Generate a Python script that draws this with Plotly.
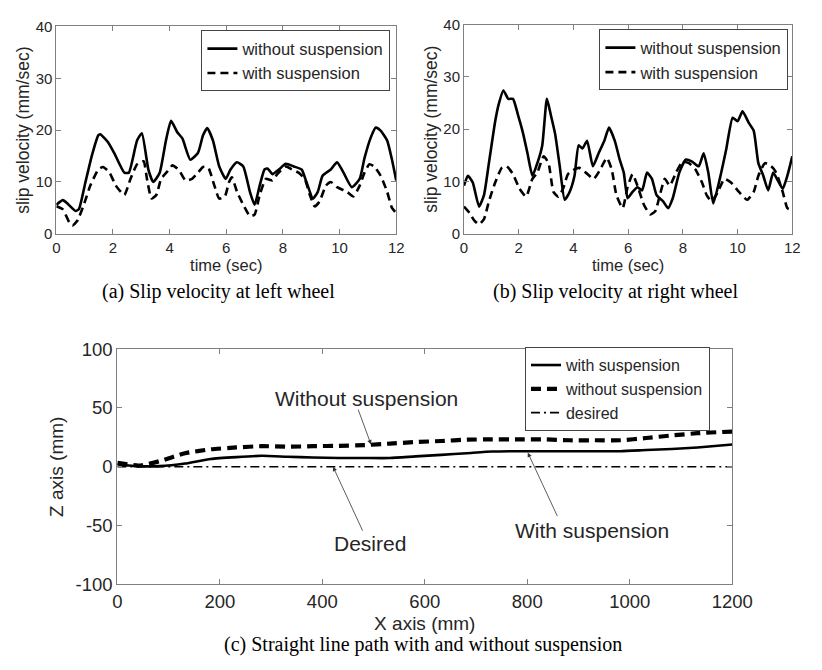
import plotly.graph_objects as go

# ---------------- data: (a) left wheel ----------------
left_wo_t = [0, 0.23, 0.4, 0.68, 0.8, 1.03, 1.25, 1.48, 1.55, 1.82, 2.05, 2.4, 2.56, 2.85, 3.02, 3.25, 3.42,
             3.65, 3.87, 4.05, 4.27, 4.45, 4.73, 5.0, 5.18, 5.33, 5.53, 5.75, 5.98, 6.15, 6.38, 6.6, 6.84,
             7.0, 7.18, 7.35, 7.46, 7.63, 7.86, 8.1, 8.38, 8.66, 8.83, 9.06, 9.23, 9.4, 9.69, 9.91, 10.14,
             10.43, 10.71, 10.88, 11.11, 11.28, 11.45, 11.68, 11.85, 12]
left_wo_v = [5.6, 6.5, 5.8, 4.4, 4.8, 10, 15, 19, 19.2, 17.7, 15.5, 11.8, 11.8, 18, 19.4, 12.4, 10,
             11.8, 18, 21.8, 19.6, 18.4, 14.3, 15.6, 19, 20.4, 18, 13, 10.6, 12.4, 13.8, 13, 8,
             5.6, 9.3, 12.4, 12.6, 11.5, 12.4, 13.5, 13, 12.4, 10, 6.8, 8.1, 11.2, 12.4, 13.8, 11.8,
             9, 10.6, 14.6, 18.7, 20.5, 19.9, 18, 14.3, 10.3]
left_w_t = [0, 0.23, 0.46, 0.57, 0.74, 0.97, 1.2, 1.48, 1.65, 1.88, 2.1, 2.4, 2.62, 2.85, 3.08, 3.2, 3.36,
            3.53, 3.7, 3.93, 4.1, 4.33, 4.56, 4.79, 5.0, 5.18, 5.36, 5.58, 5.75, 5.95, 6.1, 6.2, 6.38,
            6.6, 6.84, 7.0, 7.18, 7.4, 7.63, 7.8, 8.1, 8.32, 8.55, 8.77, 8.95, 9.12, 9.29, 9.52, 9.69,
            9.91, 10.26, 10.49, 10.71, 10.88, 11.05, 11.22, 11.45, 11.68, 11.85, 12]
left_w_v = [5.3, 4.7, 2.2, 1.6, 2.5, 5.6, 9.3, 12.4, 12.9, 11.8, 9.3, 7.5, 10.6, 13.4, 14, 10.6, 6.8,
            7.5, 10.6, 12.1, 13.2, 12.3, 10.3, 10.6, 11.8, 12.9, 12.8, 9.3, 6.8, 7.2, 10, 10.9, 8.1,
            5.6, 3.4, 3.7, 7.5, 10.6, 10.3, 11.5, 13, 12.4, 11.8, 10.6, 7.5, 5.3, 6.2, 9.3, 10,
            9, 8.1, 7.2, 9.3, 11.8, 13.4, 13, 11.2, 8.1, 5, 4]

# ---------------- data: (b) right wheel ----------------
right_wo_t = [0, 0.14, 0.32, 0.55, 0.73, 0.91, 1.14, 1.26, 1.44, 1.62, 1.79, 1.97, 2.15, 2.32, 2.5, 2.68,
              2.86, 3.03, 3.17, 3.33, 3.5, 3.68, 3.86, 4.04, 4.19, 4.33, 4.5, 4.71, 4.92, 5.13, 5.3, 5.51,
              5.69, 5.84, 5.98, 6.16, 6.34, 6.51, 6.69, 6.87, 7.04, 7.28, 7.46, 7.63, 7.87, 8.11, 8.34,
              8.58, 8.76, 8.93, 9.11, 9.35, 9.58, 9.82, 10.0, 10.18, 10.41, 10.59, 10.76, 10.94, 11.12,
              11.3, 11.47, 11.65, 11.82, 12]
right_wo_v = [9.2, 11.1, 9.8, 5.2, 7.4, 13.5, 21.5, 24.6, 27.4, 25.8, 25.8, 22.8, 19.4, 15.4, 11.1, 13.5,
              16.9, 25.8, 22.8, 19.1, 12.9, 6.5, 8, 11.1, 16.9, 16.3, 17.8, 12.9, 15.4, 17.8, 20.3, 17.8,
              14.2, 11.7, 6.8, 8, 8.9, 8.3, 11.7, 10.5, 7.4, 6.2, 4.9, 6.8, 11.7, 14.2, 13.8,
              12.9, 15.4, 11.7, 5.8, 10.5, 16, 22.2, 21.5, 23.4, 21.2, 19.7, 13.5, 11.1, 8.3,
              11.7, 10.2, 8.6, 11.1, 14.8]
right_w_t = [0, 0.2, 0.38, 0.55, 0.73, 0.91, 1.14, 1.38, 1.56, 1.79, 2.03, 2.27, 2.5, 2.68, 2.91, 3.09,
             3.27, 3.45, 3.62, 3.8, 4.04, 4.21, 4.45, 4.74, 4.98, 5.22, 5.4, 5.57, 5.8, 5.98, 6.16, 6.34,
             6.58, 6.81, 6.99, 7.16, 7.34, 7.52, 7.75, 7.99, 8.22, 8.46, 8.7, 8.87, 9.05, 9.28, 9.52,
             9.76, 10.05, 10.35, 10.59, 10.76, 11.0, 11.23, 11.41, 11.65, 11.82, 11.95]
right_w_v = [5.2, 4, 2.5, 1.8, 2.8, 6.2, 9.8, 12.6, 12.9, 11.4, 8.6, 7.1, 10.5, 11.7, 14.8, 13.5,
             8, 7.1, 8.6, 11.4, 12.3, 12.6, 11.7, 10.5, 12.3, 14.5, 12.3, 7.4, 4.9, 8.9, 11.4, 9.2,
             5.5, 3.7, 4.3, 7.4, 10.5, 9.2, 11.7, 13.8, 13.5, 12.3, 9.8, 7.4, 6.2, 8, 10.5,
             9.8, 8, 6.5, 8, 11.1, 13.5, 12.9, 11.7, 8, 4.9, 4.6]

# ---------------- data: (c) straight line path ----------------
path_x = [0, 42, 82, 132, 182, 232, 282, 332, 382, 432, 482, 532, 582, 632, 682, 732, 782, 832, 882,
          932, 982, 1032, 1082, 1132, 1200]
path_with = [1.9, 0.5, 0.5, 2.7, 6.6, 8.2, 9.3, 8.5, 7.9, 7.4, 7.4, 7.4, 8.8, 10.1, 11.5, 12.9, 13.2,
             13.2, 13.2, 13.2, 13.2, 14.2, 15.1, 16.4, 18.9]
path_without = [3.3, 1.0, 4.7, 11.5, 14.8, 16.4, 17.5, 17.0, 17.5, 17.8, 18.4, 19.7, 21.0, 21.9, 23.0,
                23.3, 23.3, 23.3, 22.5, 22.5, 22.5, 24.4, 26.6, 28.5, 29.9]
desired_x = [0, 1200]
desired_z = [0, 0]

top_xticks = [0, 2, 4, 6, 8, 10, 12]
top_xlabels = ["0", "2", "4", "6", "8", "10", "12"]
top_yticks = [0, 10, 20, 30, 40]
top_ylabels = ["0", "10", "20", "30", "40"]
bot_xticks = [0, 200, 400, 600, 800, 1000, 1200]
bot_xlabels = ["0", "200", "400", "600", "800", "1000", "1200"]
bot_yticks = [-100, -50, 0, 50, 100]
bot_ylabels = ["-100", "-50", "0", "50", "100"]

W, H = 822, 670
SANS = "Liberation Sans, Arial, sans-serif"
SERIF = "Liberation Serif, Times New Roman, serif"
AXC = "#808080"
TXT = "#262626"

fig = go.Figure()

def line(x, y, xa, ya, name, legend, width, dash):
    fig.add_trace(go.Scatter(x=x, y=y, xaxis=xa, yaxis=ya, name=name, legend=legend, mode="lines",
                             line=dict(color="black", width=width, dash=dash, shape="spline", smoothing=0.5)))

line(left_wo_t, left_wo_v, "x", "y", "without suspension", "legend", 2.6, "solid")
line(left_w_t, left_w_v, "x", "y", "with suspension", "legend", 2.6, "8px,5px")
line(right_wo_t, right_wo_v, "x2", "y2", "without suspension", "legend2", 2.6, "solid")
line(right_w_t, right_w_v, "x2", "y2", "with suspension", "legend2", 2.6, "8px,5px")
line(path_x, path_with, "x3", "y3", "with suspension", "legend3", 2.6, "solid")
line(path_x, path_without, "x3", "y3", "without suspension", "legend3", 4.2, "10px,6px")
fig.add_trace(go.Scatter(x=desired_x, y=desired_z, xaxis="x3", yaxis="y3", name="desired", legend="legend3",
                         mode="lines", line=dict(color="black", width=1.6, dash="9px,4px,2px,4px")))

def ax(dom, rng, tv, tt, size, anchor, title=None, tsize=16, standoff=4):
    d = dict(domain=dom, range=rng, tickvals=tv, ticktext=tt, showline=True, linecolor=AXC, linewidth=1,
             mirror="allticks", ticks="inside", ticklen=5, tickcolor=AXC, showgrid=False, zeroline=False,
             tickfont=dict(family=SANS, size=size, color=TXT), anchor=anchor)
    if title:
        d["title"] = dict(text=title, font=dict(family=SANS, size=tsize, color=TXT), standoff=standoff)
    return d

def leg(xr, yt, size):
    return dict(x=xr / W, y=1 - yt / H, xanchor="right", yanchor="top", bgcolor="white",
                bordercolor="#444", borderwidth=1,
                font=dict(family=SANS, size=size, color=TXT))

fig.update_layout(
    width=W, height=H, margin=dict(l=0, r=0, t=0, b=0), paper_bgcolor="white", plot_bgcolor="white",
    xaxis=ax([53 / W, 404 / W], [0, 12], top_xticks, top_xlabels, 15, "y", "time (sec)", 16.5, 2),
    yaxis=ax([1 - 230 / H, 1 - 16 / H], [0, 40], top_yticks, top_ylabels, 15, "x", "slip velocity (mm/sec)", 17.5, 1),
    xaxis2=ax([474 / W, 813 / W], [0, 12], top_xticks, top_xlabels, 15, "y2", "time (sec)", 16.5, 2),
    yaxis2=ax([1 - 230 / H, 1 - 14 / H], [0, 40], top_yticks, top_ylabels, 15, "x2", "slip velocity (mm/sec)", 17.5, 1),
    xaxis3=ax([116 / W, 751 / W], [0, 1200], bot_xticks, bot_xlabels, 18.5, "y3", "X axis (mm)", 19, 6),
    yaxis3=ax([1 - 592 / H, 1 - 349 / H], [-100, 100], bot_yticks, bot_ylabels, 18.5, "x3", "Z axis (mm)", 19, 6),
    legend=leg(398, 20, 16.5),
    legend2=leg(809, 19, 16.5),
    legend3=leg(728, 347, 16),
    showlegend=True,
)

anns = []
# captions
for txt, cx, cy in [("(a) Slip velocity at left wheel", 220, 290),
                    ("(b) Slip velocity at right wheel", 630, 290),
                    ("(c) Straight line path with and without suspension", 432, 654)]:
    anns.append(dict(text=txt, x=cx / W, y=1 - cy / H, xref="paper", yref="paper", showarrow=False,
                     xanchor="center", yanchor="middle", font=dict(family=SERIF, size=20, color="black")))
# labels with arrows on (c)
for txt, tx, ty, tailx, taily, tipx, tipy in [
        ("Without suspension", 486, 58, 469, 49.8, 495, 19),
        ("Desired", 493, -65.4, 480, -55.6, 421, 0),
        ("With suspension", 926, -53.9, 860, -43.2, 801, 12)]:
    anns.append(dict(text=txt, x=tx, y=ty, xref="x3", yref="y3", showarrow=False,
                     font=dict(family=SANS, size=21, color=TXT)))
    anns.append(dict(text="", x=tipx, y=tipy, xref="x3", yref="y3", ax=tailx, ay=taily,
                     axref="x3", ayref="y3", showarrow=True, arrowhead=2, arrowsize=1.1,
                     arrowwidth=0.8, arrowcolor="#333"))
fig.update_layout(annotations=anns)

fig.write_html("out.html")
